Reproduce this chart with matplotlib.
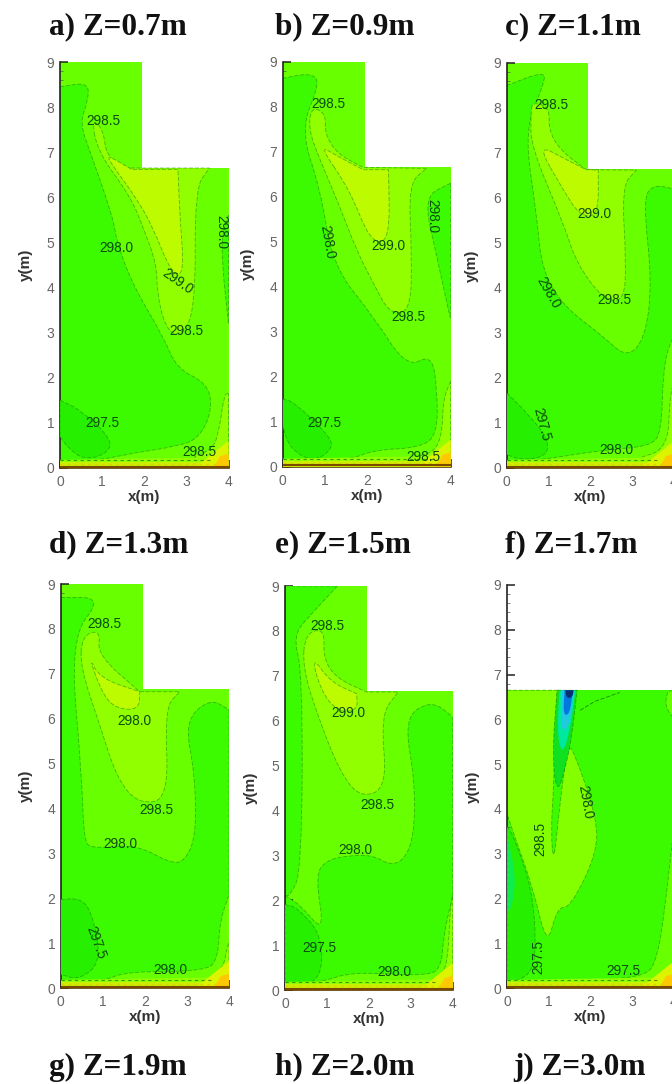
import matplotlib
matplotlib.use('Agg')
import matplotlib.pyplot as plt
from matplotlib.patches import PathPatch
from matplotlib.path import Path
from matplotlib.ticker import MultipleLocator

W, H = 672, 1084

# --- colours of the temperature bands ---
C_297 = '#26f000'
C_298 = '#3cfb00'
C_2985 = '#68ff00'
C_299 = '#92ff00'
C_2995 = '#bcfb00'
LINE = '#1c8a00'

# --- domain outlines (x, y in metres) ---
room_x = [0, 4, 4, 1.95, 1.95, 0]
room_y = [0, 0, 6.65, 6.65, 9, 9]
rect_x = [0, 4, 4, 0]
rect_y = [0, 0, 6.65, 6.65]

# --- a) Z=0.7m ---
a_main = [(0, 8.45), (0.67, 8.55), (0.67, 8.15), (0.47, 7.65), (0.7, 7.05), (1.26, 5.55), (1.35, 5.0), (1.74, 4.03),
          (2.45, 2.92), (2.77, 2.2), (3.5, 1.88), (3.62, 1.3), (3.3, 0.65), (2.77, 0.48), (1.74, 0.33), (0.95, 0.18), (0, 0.1)]
a_mid = [(0.75, 7.75), (1.03, 7.5), (1.1, 6.9), (1.6, 6.65), (3.55, 6.65), (3.2, 6.2), (3.22, 3.5), (2.85, 2.9),
         (2.5, 3.1), (2.3, 3.9), (2.3, 4.5), (1.95, 5.4), (1.65, 6.05), (0.9, 7.0)]
a_hot = [(1.1, 6.95), (1.7, 6.62), (2.8, 6.62), (2.85, 5.5), (2.95, 4.3), (2.65, 4.3), (2.2, 5.35), (1.8, 6.0), (1.25, 6.7)]
a_right = [(4, 5.6), (3.85, 5.2), (3.85, 4.5), (4, 3.2)]
a_corner = [(4, 1.65), (3.9, 1.63), (3.78, 0.85), (3.63, 0.4), (3.0, 0.2), (4, 0.2)]
a_cold = [(0, 1.5), (0.47, 1.3), (1.25, 0.63), (1.1, 0.3), (0.55, 0.18), (0.16, 0.48), (0, 0.7)]

# --- b) Z=0.9m ---
b_main = [(0, 8.63), (0.65, 8.75), (0.9, 8.55), (0.42, 7.5), (0.9, 6.15), (1.2, 4.45), (2.15, 3.35), (2.95, 2.2),
          (3.55, 2.5), (3.68, 1.7), (3.68, 0.7), (3.25, 0.42), (2.15, 0.37), (1.6, 0.15), (0, 0.1)]
b_mid = [(0.68, 8.0), (1.03, 7.85), (1.0, 7.4), (1.3, 6.95), (1.92, 6.65), (3.43, 6.63), (3.0, 6.3), (3.07, 4.8),
         (3.05, 3.45), (2.55, 3.4), (2.2, 4.0), (1.76, 4.8), (1.33, 5.85), (0.85, 6.9), (0.62, 7.5)]
b_hot = [(0.86, 7.15), (1.3, 6.9), (1.92, 6.6), (2.52, 6.6), (2.55, 5.0), (2.08, 5.0), (1.6, 6.15)]
b_right = [(4, 6.3), (3.35, 6.0), (3.67, 4.67), (3.98, 3.33), (4, 3.3)]
b_corner = [(4, 1.9), (3.82, 1.5), (3.8, 0.75), (3.6, 0.3), (3.0, 0.2), (4, 0.2)]
b_cold = [(0, 1.5), (0.25, 1.45), (1.1, 0.7), (1.2, 0.4), (0.73, 0.1), (0.17, 0.4), (0, 0.9)]

# --- c) Z=1.1m ---
c_main = [(0, 8.5), (0.9, 8.82), (0.9, 8.55), (0.42, 7.5), (0.72, 5.6), (0.84, 4.4), (1.35, 3.6), (2.3, 2.93),
          (2.86, 2.45), (3.3, 2.85), (3.48, 4.1), (3.26, 5.96), (3.5, 6.3), (4, 6.2), (4, 2.9), (3.9, 2.78),
          (3.74, 2.18), (3.7, 0.78), (3.42, 0.48), (2.3, 0.4), (1.1, 0.22), (0, 0.1)]
c_mid = [(0.6, 8.15), (1.03, 8.0), (1.0, 7.52), (1.27, 7.07), (1.9, 6.63), (3.1, 6.62), (2.75, 6.26), (2.86, 4.55),
         (2.8, 3.7), (2.3, 3.75), (1.67, 4.55), (1.35, 5.45), (0.58, 7.15), (0.58, 7.8)]
c_hot = [(0.72, 7.2), (1.43, 6.85), (1.9, 6.63), (2.19, 6.62), (2.19, 5.6), (1.75, 5.6), (1.35, 6.18)]
c_right = []
c_corner = [(4, 1.9), (3.9, 1.6), (3.85, 0.4), (3.0, 0.2), (4, 0.2)]
c_cold = [(0, 1.67), (0.56, 1.15), (1.0, 0.63), (0.95, 0.25), (0.32, 0.18), (0, 0.3)]

# --- d) Z=1.3m ---
d_main = [(0, 8.7), (1.0, 8.7), (0.22, 7.8), (0.5, 4.75), (0.55, 3.3), (0.73, 3.1), (1.8, 3.2), (2.6, 2.78),
          (2.95, 2.82), (3.22, 3.4), (3.19, 4.75), (2.95, 5.94), (3.54, 6.45), (4, 6.2), (4, 2.08), (3.78, 1.48),
          (3.74, 0.67), (3.46, 0.37), (1.56, 0.37), (1.0, 0.15), (0, 0.07)]
d_mid = [(0.5, 7.85), (0.95, 7.98), (0.87, 7.42), (1.88, 6.6), (2.83, 6.6), (2.47, 6.24), (2.57, 4.2), (1.84, 4.1),
         (1.33, 4.68), (0.93, 5.86), (0.47, 7.13)]
d_hot = [(0.66, 7.4), (0.93, 6.9), (1.88, 6.6), (1.86, 6.2), (1.33, 6.22), (1.0, 6.53)]
d_right = []
d_corner = [(4, 1.0), (3.95, 0.9), (3.88, 0.5), (3.6, 0.2), (4, 0.2)]
d_cold = [(0, 1.97), (0.46, 2.0), (0.74, 1.7), (0.97, 0.6), (0.46, 0.18), (0, 0.3)]

# --- e) Z=1.5m ---
e_main = [(0, 2.1), (0.36, 1.9), (0.95, 1.25), (0.72, 2.56), (1.0, 2.9), (1.55, 3.0), (2.1, 3.0), (2.5, 2.78),
          (2.85, 2.9), (3.08, 3.45), (3.1, 4.64), (2.84, 6.05), (3.46, 6.45), (3.98, 6.12), (4, 6.0), (4, 2.1),
          (3.78, 1.22), (3.74, 0.56), (3.46, 0.3), (1.63, 0.41), (0.91, 0.19), (0, 0.07)]
e_strip = [(0, 9), (1.25, 9), (0.68, 8.43), (0.18, 7.9), (0.42, 7.1), (0.4, 2.65), (0.12, 2.1), (0, 2.1)]
e_mid = [(0.48, 7.95), (0.95, 8.05), (0.91, 7.39), (1.23, 6.94), (1.95, 6.64), (2.7, 6.64), (2.28, 6.12), (2.44, 4.5),
         (1.79, 4.28), (1.31, 4.86), (0.83, 5.98), (0.42, 7.16)]
e_hot = [(0.64, 7.45), (1.07, 6.87), (1.71, 6.6), (1.73, 6.22), (1.23, 6.2), (0.83, 6.72)]
e_corner = [(4, 2.1), (3.94, 1.82), (3.88, 0.6), (3.7, 0.3), (3.4, 0.2), (4, 0.2)]
e_cold = [(0, 1.9), (0.28, 1.85), (0.9, 1.2), (0.85, 0.15), (0, 0.1)]

# --- j) Z=3.0m ---
j_mid = [(0, 6.65), (1.2, 6.65), (1.15, 5.7), (1.12, 4.5), (1.05, 3.5), (1.12, 2.75), (1.25, 4.0), (1.45, 5.4), (1.6, 5.3),
         (2.15, 3.8), (2.15, 3.0), (1.52, 1.8), (1.2, 1.8), (0.96, 0.9), (0.62, 2.25), (0.16, 3.44), (0, 3.9)]
j_cold = [(0, 3.6), (0.16, 3.4), (0.6, 2.2), (0.7, 1.0), (0.6, 0.3), (0, 0.1)]
j_teal = [(0, 3.4), (0.22, 2.5), (0.12, 1.8), (0, 1.7)]
j_top = [(4, 6.65), (3.85, 6.62), (3.78, 6.3), (4, 6.0)]
j_low = [(4, 3.6), (3.76, 1.6), (3.6, 0.7), (3.36, 0.26), (2.08, 0.18), (4, 0.18)]
j_plume = [(1.2, 6.65), (1.68, 6.65), (1.55, 5.6), (1.42, 5.0), (1.2, 4.3), (1.08, 5.2)]
j_plume2 = [(1.26, 6.65), (1.64, 6.65), (1.5, 5.7), (1.32, 5.2), (1.2, 5.7)]
j_plume3 = [(1.32, 6.65), (1.6, 6.65), (1.5, 5.85), (1.28, 5.7)]
j_plume4 = [(1.38, 6.65), (1.58, 6.65), (1.5, 6.1), (1.34, 6.1)]
j_plume5 = [(1.4, 6.65), (1.6, 6.65), (1.56, 6.48), (1.42, 6.48)]
j_line_x = [1.75, 2.1, 2.7]
j_line_y = [6.2, 6.4, 6.6]

# --- contour labels: text, x, y, rotation ---
a_labels = [('298.5', 1.03, 7.7, 0), ('298.0', 1.34, 4.87, 0), ('298.0', 3.83, 5.24, 270), ('299.0', 2.8, 4.13, -35),
            ('298.5', 3.0, 3.03, 0), ('297.5', 1.0, 1.0, 0), ('298.5', 3.32, 0.35, 0)]
b_labels = [('298.5', 1.1, 8.07, 0), ('298.0', 1.05, 5.0, -80), ('298.0', 3.57, 5.58, -90), ('299.0', 2.52, 4.9, 0),
            ('298.5', 3.0, 3.33, 0), ('297.5', 1.0, 0.98, 0), ('298.5', 3.35, 0.22, 0)]
c_labels = [('298.5', 1.06, 8.07, 0), ('299.0', 2.1, 5.65, 0), ('298.0', 1.0, 3.89, -60), ('298.5', 2.58, 3.73, 0),
            ('297.5', 0.84, 0.96, -75), ('298.0', 2.63, 0.41, 0)]
d_labels = [('298.5', 1.04, 8.11, 0), ('298.0', 1.74, 5.94, 0), ('298.5', 2.28, 3.97, 0), ('298.0', 1.41, 3.2, 0),
            ('297.5', 0.84, 1.0, -70), ('298.0', 2.61, 0.41, 0)]
e_labels = [('298.5', 1.01, 8.11, 0), ('299.0', 1.51, 6.16, 0), ('298.5', 2.21, 4.12, 0), ('298.0', 1.69, 3.12, 0),
            ('297.5', 0.81, 0.94, 0), ('298.0', 2.62, 0.41, 0)]
j_labels = [('298.0', 1.88, 4.15, -80), ('298.5', 0.8, 3.33, 90), ('297.5', 0.76, 0.7, 90), ('297.5', 2.8, 0.37, 0)]

titles_row1 = ['a) Z=0.7m', 'b) Z=0.9m', 'c) Z=1.1m']
titles_row2 = ['d) Z=1.3m', 'e) Z=1.5m', 'f) Z=1.7m']
titles_row3 = ['g) Z=1.9m', 'h) Z=2.0m', 'j) Z=3.0m']

plt.rcParams['font.family'] = ['Liberation Sans', 'DejaVu Sans']
fig = plt.figure(figsize=(W / 100, H / 100), dpi=100, facecolor='white')


def make_axes(x0, x4, y9, y0):
    ax = fig.add_axes([x0 / W, 1 - y0 / H, (x4 - x0) / W, (y0 - y9) / H])
    ax.set_xlim(0, 4)
    ax.set_ylim(0, 9)
    ax.patch.set_alpha(0)
    ax.spines['top'].set_visible(False)
    ax.spines['right'].set_visible(False)
    ax.spines['left'].set_linewidth(1.2)
    ax.spines['bottom'].set_linewidth(1.2)
    ax.spines['left'].set_color('#222222')
    ax.spines['bottom'].set_color('#5a3a00')
    ax.xaxis.set_major_locator(MultipleLocator(1))
    ax.yaxis.set_major_locator(MultipleLocator(1))
    ax.yaxis.set_minor_locator(MultipleLocator(0.2))
    ax.tick_params(which='major', direction='in', length=6, width=1.1, color='#222222',
                   labelsize=10, labelcolor='#666666')
    ax.tick_params(axis='x', which='major', pad=5)
    ax.tick_params(axis='y', which='major', pad=4)
    ax.tick_params(which='minor', direction='in', length=2.5, width=0.5, color='#555555')
    ax.set_xlabel('x(m)', fontsize=11, fontweight='bold', color='#333333', labelpad=1)
    ax.set_ylabel('y(m)', fontsize=11, fontweight='bold', color='#333333', labelpad=10)
    return ax


def smooth_path(pts):
    # rounded outline through the read points, points on the walls stay sharp
    n = len(pts)
    def sharp(p):
        return p[0] <= 0 or p[0] >= 4 or 6.6 <= p[1] <= 6.66 or p[1] >= 9
    def mid(p, q):
        return ((p[0] + q[0]) / 2, (p[1] + q[1]) / 2)
    verts, codes = [], []
    for i in range(n):
        p, q, r = pts[i - 1], pts[i], pts[(i + 1) % n]
        if sharp(q):
            verts.append(q)
            codes.append(Path.LINETO)
        else:
            verts += [mid(p, q), q, mid(q, r)]
            codes += [Path.LINETO, Path.CURVE3, Path.CURVE3]
    codes[0] = Path.MOVETO
    verts.append(verts[0])
    codes.append(Path.CLOSEPOLY)
    return Path(verts, codes)


def band(ax, pts, color, z=2, edge=True):
    if not pts:
        return
    path = smooth_path(pts)
    ax.add_patch(PathPatch(path, facecolor=color, edgecolor='none', lw=0, zorder=z))
    if edge:
        ax.add_patch(PathPatch(path, facecolor='none', edgecolor=LINE, lw=0.6, ls=(0, (5, 2)),
                               alpha=0.6, zorder=z + 0.5))


def floor(ax):
    # warm strip along the floor, mottled in the reference
    ax.fill([0, 4, 4, 0], [0, 0, 0.24, 0.18], color='#90ff00', lw=0, zorder=4)
    ax.fill([0, 4, 4, 0], [0, 0, 0.13, 0.13], color='#c8f000', lw=0, zorder=5)
    ax.fill([3.2, 4, 4, 3.8], [0, 0, 0.6, 0.45], color='#dcf400', lw=0, zorder=5.5)
    ax.fill([3.65, 4, 4, 3.8], [0, 0, 0.32, 0.26], color='#ffc800', lw=0, zorder=6)
    ax.plot([0, 3.6], [0.17, 0.17], color='#2e8000', lw=0.8, ls=(0, (3, 3)), alpha=0.8, zorder=6.5)
    ax.plot([0, 4], [0.08, 0.08], color='#e8d000', lw=1.0, ls=(0, (2, 3)), zorder=6.5)
    ax.plot([0, 4], [0.03, 0.03], color='#7a4a00', lw=1.5, zorder=7)


def labels(ax, items):
    for txt, x, y, rot in items:
        ax.text(x, y, txt, fontsize=9.8, color='#0a4c10', rotation=rot, ha='center', va='center', zorder=9)


def room_panel(pos, main, mid, hot, right, corner, cold, items, extra=None):
    ax = make_axes(*pos)
    ax.fill(room_x, room_y, color=C_2985, lw=0, zorder=1)
    band(ax, main, C_298)
    if extra:
        band(ax, extra, C_298)
    band(ax, right, C_298)
    band(ax, corner, C_299, z=3)
    band(ax, cold, C_297, z=3)
    band(ax, mid, C_299, z=3)
    band(ax, hot, C_2995, z=4)
    floor(ax)
    labels(ax, items)
    return ax


room_panel((60, 228.5, 62, 468), a_main, a_mid, a_hot, a_right, a_corner, a_cold, a_labels)
room_panel((282.7, 450.7, 61.7, 466.7), b_main, b_mid, b_hot, b_right, b_corner, b_cold, b_labels)
room_panel((506.7, 674, 63, 468), c_main, c_mid, c_hot, c_right, c_corner, c_cold, c_labels)
room_panel((60.7, 229, 584, 988), d_main, d_mid, d_hot, d_right, d_corner, d_cold, d_labels)
room_panel((285, 452.7, 586, 990), e_main, e_mid, e_hot, [], e_corner, e_cold, e_labels, extra=e_strip)

# last panel has no upper part of the room
ax = make_axes(507, 674, 585, 988)
ax.fill(rect_x, rect_y, color=C_298, lw=0, zorder=1)
band(ax, j_mid, '#84ff00')
band(ax, j_cold, C_297, z=2.6)
band(ax, j_teal, '#10ec50', z=2.8, edge=False)
band(ax, j_top, C_2985)
band(ax, j_low, C_2985)
band(ax, j_plume, '#10e020', z=3)
band(ax, j_plume2, '#00e8a0', z=3.2, edge=False)
band(ax, j_plume3, '#20c8e0', z=3.4, edge=False)
band(ax, j_plume4, '#0078e0', z=3.6, edge=False)
band(ax, j_plume5, '#083070', z=3.8, edge=False)
ax.plot(j_line_x, j_line_y, color=LINE, lw=0.6, ls=(0, (5, 2)), zorder=3)
floor(ax)
labels(ax, j_labels)

# --- panel captions, they sit in figure pixels ---
title_x = [49, 275, 505]
title_row_y = [27, 545, 1067]
for row, names in zip(title_row_y, [titles_row1, titles_row2, titles_row3]):
    for x, name in zip(title_x, names):
        if name[0] == 'j':
            x = 513
        fig.text(x / W, 1 - row / H, name, family=['Liberation Serif', 'DejaVu Serif'], fontweight='bold',
                 fontsize=22.5, color='#111111', ha='left', va='center')

fig.savefig('out.png', dpi=100)
